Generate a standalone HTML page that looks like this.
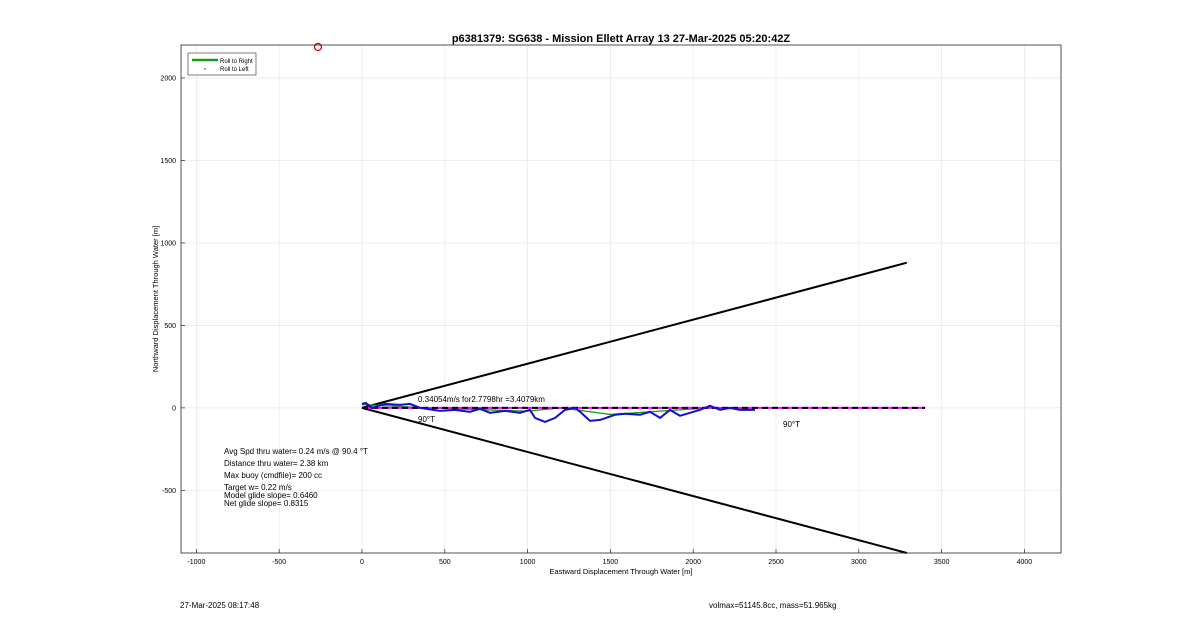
<!DOCTYPE html>
<html><head><meta charset="utf-8"><style>
body{margin:0;background:#fff;font-family:"Liberation Sans",sans-serif;}
svg{display:block}
</style></head><body>
<svg width="1200" height="622" id="c" font-family="Liberation Sans, sans-serif">
<text x="621" y="42" text-anchor="middle" font-size="11" font-weight="bold">p6381379: SG638 - Mission Ellett Array 13 27-Mar-2025 05:20:42Z</text>
<text x="621" y="574" text-anchor="middle" font-size="7.5">Eastward Displacement Through Water [m]</text>
<text x="158" y="299" text-anchor="middle" font-size="7.5" transform="rotate(-90 158 299)">Northward Displacement Through Water [m]</text>
<text x="180" y="608" font-size="8">27-Mar-2025 08:17:48</text>
<text x="709" y="608" font-size="8">volmax=51145.8cc, mass=51.965kg</text>
<g id="grid"></g><g id="marks"></g>
<rect x="181" y="45" width="880" height="508" fill="none" stroke="#262626" stroke-width="0.8"/>
<g>
<rect x="188" y="53" width="68" height="22" fill="#fff" stroke="#262626" stroke-width="0.6"/>
<line x1="192" y1="60" x2="218" y2="60" stroke="#1a9a1a" stroke-width="2.5"/>
<text x="220" y="63" font-size="6">Roll to Right</text>
<circle cx="205" cy="69" r="0.8" fill="#c00"/>
<text x="220" y="71" font-size="6">Roll to Left</text>
</g>
<g font-size="8" style="white-space:pre">
<text x="224" y="454">Avg Spd thru water=  0.24 m/s @  90.4 °T</text>
<text x="224" y="466">Distance thru water=  2.38 km</text>
<text x="224" y="478">Max buoy (cmdfile)= 200 cc</text>
<text x="224" y="490">Target w= 0.22 m/s</text>
<text x="224" y="498">Model glide slope= 0.6460</text>
<text x="224" y="506">Net glide slope= 0.8315</text>
</g>
</svg>
<script>
const xTicks=[-1000,-500,0,500,1000,1500,2000,2500,3000,3500,4000];
const yTicks=[-500,0,500,1000,1500,2000];
const trackX=[0,24,60,139,230,290,350,471,562,652,713,773,864,954,1014,1045,1105,1166,1226,1286,1317,1377,1438,1528,1588,1679,1739,1800,1860,1920,1981,2041,2101,2162,2222,2282,2373];
const trackY=[24,30,0,24,18,24,0,-18,-12,-24,-6,-30,-18,-30,-12,-61,-85,-61,-12,0,-24,-79,-73,-42,-36,-42,-24,-61,-12,-48,-30,-12,12,-12,0,-12,-12];
const smoothX=[0,400,1000,1200,1500,1800,2100,2373];
const smoothY=[20,0,-20,0,-40,-20,0,-10];
const coneEnd=[3290,880];
const headingEnd=3400;
const surfacePt=[-266,2188];
const X0=-1093,X1=4221,Y0=-880,Y1=2200;
const sx=v=>181+(v-X0)/(X1-X0)*880, sy=v=>553-(v-Y0)/(Y1-Y0)*508;
const NS='http://www.w3.org/2000/svg';
function mk(t,a,p){const e=document.createElementNS(NS,t);for(const k in a)e.setAttribute(k,a[k]);p.appendChild(e);return e;}
const g=document.getElementById('grid'),m=document.getElementById('marks');
xTicks.forEach(t=>{const x=sx(t);
const l=mk('line',{x1:x,x2:x,y1:45,y2:553,stroke:'#e6e6e6','stroke-width':0.7},g);


mk('line',{x1:x,x2:x,y1:553,y2:549,stroke:'#262626','stroke-width':0.7},g);
const tx=mk('text',{x:x,y:564,'text-anchor':'middle','font-size':7},g);tx.textContent=t;

});
yTicks.forEach(t=>{const y=sy(t);
const l=mk('line',{x1:181,x2:1061,y1:y,y2:y,stroke:'#e6e6e6','stroke-width':0.7},g);


mk('line',{x1:181,x2:185,y1:y,y2:y,stroke:'#262626','stroke-width':0.7},g);
const tx=mk('text',{x:176,y:y+2.5,'text-anchor':'end','font-size':7},g);tx.textContent=t;

});
[1,-1].forEach(s=>{const l=mk('line',{x1:sx(0),y1:sy(0),x2:sx(coneEnd[0]),y2:sy(s*coneEnd[1]),stroke:'#000','stroke-width':2},m);

});
const pts=(xs,ys)=>xs.map((v,i)=>sx(v)+','+sy(ys[i])).join(' ');
let p=mk('polyline',{points:pts(smoothX,smoothY),fill:'none',stroke:'#1a9a1a','stroke-width':1.3},m);


p=mk('line',{x1:sx(0),y1:sy(0),x2:sx(headingEnd),y2:sy(0),stroke:'#ff00ff','stroke-width':2},m);


p=mk('line',{x1:sx(0),y1:sy(0),x2:sx(headingEnd),y2:sy(0),stroke:'#000','stroke-width':2,'stroke-dasharray':'6 4'},m);


p=mk('polyline',{points:pts(trackX,trackY),fill:'none',stroke:'#1010d0','stroke-width':2},m);


p=mk('circle',{cx:sx(surfacePt[0]),cy:sy(surfacePt[1]),r:3.5,fill:'none',stroke:'#d00','stroke-width':1.3},m);


[[418,402,'0.34054m/s for2.7798hr =3.4079km','speed-label'],[418,422,'90°T','heading-label-left'],[783,427,'90°T','heading-label-right']].forEach(a=>{
const t=mk('text',{x:a[0],y:a[1],'font-size':8},m);t.textContent=a[2];

});
</script>
</body></html>
